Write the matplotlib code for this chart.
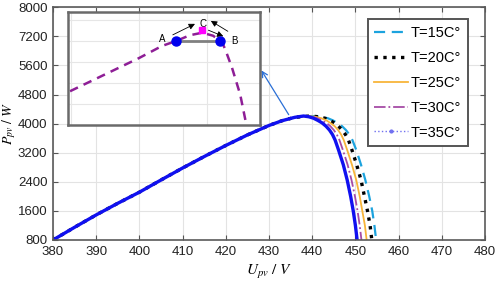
import matplotlib
matplotlib.use("Agg")
import matplotlib.pyplot as plt
from matplotlib.lines import Line2D

plt.rcParams['font.family'] = ['Liberation Sans', 'DejaVu Sans']
plt.rcParams['mathtext.fontset'] = 'stix'

# rising branch (shared by all temperatures)
u_rise = [380, 385, 390, 395, 400, 405, 410, 415, 420, 425, 430, 433, 436]
p_rise = [800, 1150, 1490, 1810, 2115, 2450, 2780, 3095, 3400, 3690, 3950, 4080, 4175]

# falling branch, power levels shared, voltage per temperature
p_fall = [4210, 4190, 4150, 4090, 4020, 3930, 3825, 3700, 3550, 3275, 2870, 2450, 2000, 1600, 1200, 800]
u_fall_15 = [440.0, 442.0, 443.6, 444.8, 445.8, 446.9, 447.8, 448.6, 449.3, 450.2, 451.3, 452.3, 453.2, 453.9, 454.4, 454.8]
u_fall_20 = [439.5, 441.4, 442.9, 444.1, 445.1, 446.1, 446.9, 447.7, 448.4, 449.2, 450.3, 451.3, 452.1, 452.8, 453.4, 453.8]
u_fall_25 = [439.0, 440.7, 442.1, 443.3, 444.2, 445.2, 446.0, 446.7, 447.3, 448.1, 449.2, 450.2, 451.0, 451.6, 452.2, 452.6]
u_fall_30 = [438.5, 439.9, 441.2, 442.2, 443.3, 444.2, 445.0, 445.7, 446.3, 447.1, 448.2, 449.1, 449.9, 450.5, 451.0, 451.4]
u_fall_35 = [438.0, 439.2, 440.3, 441.3, 442.3, 443.2, 444.0, 444.7, 445.3, 446.1, 447.2, 448.1, 448.9, 449.5, 450.0, 450.4]

labels = ['T=15C°', 'T=20C°', 'T=25C°', 'T=30C°', 'T=35C°']

x_ticks = [380, 390, 400, 410, 420, 430, 440, 450, 460, 470, 480]
y_ticks = [800, 1600, 2400, 3200, 4000, 4800, 5600, 6400, 7200]
y_tick_labels = ['800', '1600', '2400', '3200', '4000', '4800', '5600', '7200', '8000']

# zoomed inset (schematic MPPT around the peak)
u_zoom = [435.99, 437.0, 437.34, 437.55, 437.75, 437.93, 438.09, 438.22, 438.27, 438.37, 438.49, 438.58]
p_zoom = [4176.0, 4191.7, 4197.5, 4199.9, 4202.6, 4203.8, 4202.4, 4199.5, 4195.9, 4187.1, 4174.4, 4160.1]
ab_u = [437.55, 438.19]
ab_p = [4200.0, 4200.0]
c_u = [437.93]
c_p = [4205.0]

fig = plt.figure(figsize=(4.98, 2.85), dpi=100)
ax = fig.add_axes([0.1064, 0.1579, 0.8675, 0.8165])

ax.plot(u_rise + u_fall_15, p_rise + p_fall, color='#1CA3DE', ls='--', dashes=(5, 3), lw=1.6)
ax.plot(u_rise + u_fall_20, p_rise + p_fall, color='black', ls=':', lw=2.4)
ax.plot(u_rise + u_fall_25, p_rise + p_fall, color='#F8B53A', ls='-', lw=1.3)
ax.plot(u_rise + u_fall_30, p_rise + p_fall, color='#A64CA6', ls='-.', lw=1.3)
ax.plot(u_rise + u_fall_35, p_rise + p_fall, color='#1010F0', ls='-', lw=2.4)

handles = [
    Line2D([], [], color='#1CA3DE', ls='--', dashes=(5, 3), lw=1.6),
    Line2D([], [], color='black', ls=':', lw=2.4),
    Line2D([], [], color='#F8B53A', ls='-', lw=1.3),
    Line2D([], [], color='#A64CA6', ls='-.', lw=1.3),
    Line2D([], [], color='#7070F0', ls=':', lw=1.0, marker='.', markersize=4, markevery=[1]),
]
leg = ax.legend(handles, labels, loc='upper right', bbox_to_anchor=(0.977, 0.98),
                fontsize=10.5, frameon=True, fancybox=False, framealpha=1,
                edgecolor='#555555', handlelength=2.3, handletextpad=0.2,
                labelspacing=0.75, borderpad=0.45)
leg.get_frame().set_linewidth(1.4)

ax.set_xlim(380, 480)
ax.set_ylim(800, 7200)
ax.set_xticks(x_ticks)
ax.set_yticks(y_ticks)
ax.set_yticklabels(y_tick_labels)
ax.grid(True, color='#E3E3E3', lw=0.8)
ax.tick_params(direction='in', top=True, right=True, length=3.5, labelsize=9.5,
               colors='#555555', labelcolor='#222222', pad=4)
for s in ax.spines.values():
    s.set_color('#5A5A5A')
    s.set_linewidth(1.2)
ax.set_xlabel(r'$U_{pv}\ /\ V$', fontsize=11, labelpad=4)
ax.set_ylabel(r'$P_{pv}\ /\ W$', fontsize=10)
ax.yaxis.set_label_coords(-0.08, 0.5)

# pointer from the peak to the inset
ax.annotate('', xy=(427.9, 5530), xytext=(434.9, 4182),
            arrowprops=dict(arrowstyle='->', color='#2A6FD6', lw=0.9))

# inset
axi = fig.add_axes([0.1365, 0.5625, 0.3855, 0.3965])
axi.plot(u_zoom, p_zoom, color='#8E1E96', ls='--', dashes=(3.5, 2.5), lw=1.8)
axi.plot(ab_u, ab_p, color='#808080', lw=2.0, zorder=3)
axi.plot(ab_u, ab_p, ls='none', marker='o', markersize=6.5, color='#0000EE', zorder=4)
axi.plot(c_u, c_p, ls='none', marker='s', markersize=5, color='#FF00FF', zorder=4)

arrow_kw = dict(arrowstyle='-|>', color='black', lw=0.6, mutation_scale=9)
axi.annotate('', xy=(437.862, 4208.6), xytext=(437.463, 4202.2), arrowprops=arrow_kw)
axi.annotate('', xy=(438.024, 4210.1), xytext=(438.343, 4203.8), arrowprops=arrow_kw)
axi.annotate('', xy=(438.28, 4201.6), xytext=(437.985, 4205.5), arrowprops=arrow_kw)
axi.text(437.35, 4200.8, 'A', fontsize=7, ha='center', va='center')
axi.text(437.95, 4207.8, 'C', fontsize=7, ha='center', va='center')
axi.text(438.40, 4200.1, 'B', fontsize=7, ha='center', va='center')

axi.set_xlim(435.96, 438.78)
axi.set_ylim(4160.1, 4213.8)
axi.set_xticks([436, 437, 438])
axi.set_yticks([4170, 4180, 4190, 4200, 4210])
axi.grid(True, color='#E6E6E6', lw=0.8)
axi.tick_params(length=0, labelbottom=False, labelleft=False)
for s in axi.spines.values():
    s.set_color('#6A6A6A')
    s.set_linewidth(1.8)

fig.savefig('out.png', dpi=100)
